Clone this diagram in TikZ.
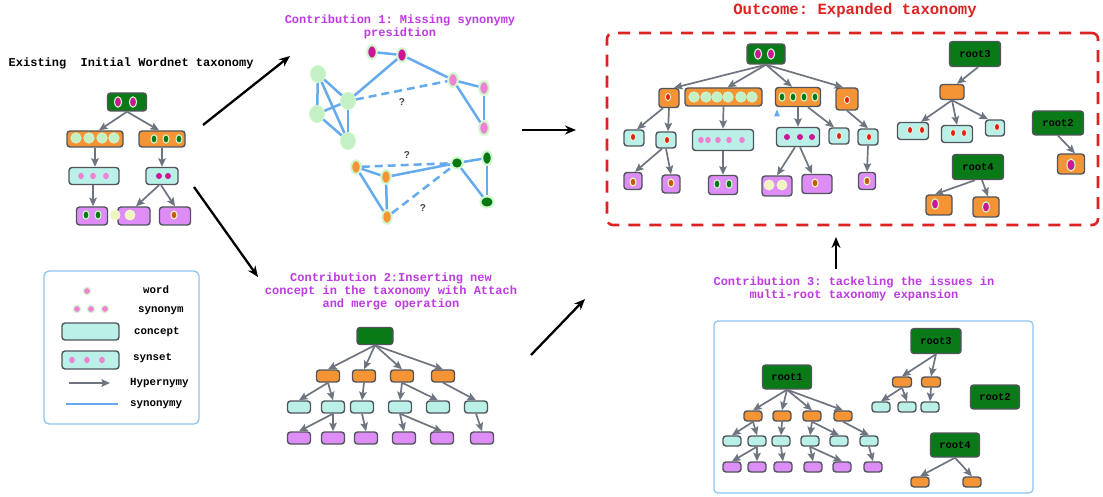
\documentclass[tikz,border=0pt]{standalone}
\usepackage{fontspec}
\setmonofont{Liberation Mono}
\newfontfamily\qfont{Liberation Sans}
\usetikzlibrary{arrows.meta,shapes.geometric}

% palette
\definecolor{tgreen}{RGB}{10,122,24}
\definecolor{torange}{RGB}{245,148,52}
\definecolor{tcyan}{RGB}{186,240,232}
\definecolor{tpurple}{RGB}{222,140,246}
\definecolor{tedge}{RGB}{80,85,92}
\definecolor{tarrow}{RGB}{110,116,128}
\definecolor{dmag}{RGB}{204,22,150}
\definecolor{dpink}{RGB}{240,128,212}
\definecolor{dlgreen}{RGB}{196,240,198}
\definecolor{dlgrim}{RGB}{208,246,204}
\definecolor{ddgreen}{RGB}{8,120,20}
\definecolor{dred}{RGB}{230,30,20}
\definecolor{drim}{RGB}{232,246,214}
\definecolor{dbrown}{RGB}{200,88,16}
\definecolor{dyellow}{RGB}{240,245,190}
\definecolor{dyellowrim}{RGB}{246,250,214}
\definecolor{synblue}{RGB}{102,170,238}
\definecolor{ctitle}{RGB}{190,58,226}
\definecolor{otitle}{RGB}{222,34,34}
\definecolor{legendline}{RGB}{140,196,240}
\definecolor{qgrey}{RGB}{70,70,70}

% one filled dot (word) at x,y
\newcommand\spot[3]{\path[#1] (#2,#3) circle[];}

\begin{document}
\begin{tikzpicture}[x=1pt,y=-1pt,
  box/.style={draw=tedge,line width=1.4pt,rounded corners=3pt,inner sep=0pt,
    font=\ttfamily\bfseries\fontsize{10.5}{12}\selectfont},
  sz/.style 2 args={minimum width=#1pt,minimum height=#2pt},
  gbox/.style={box,fill=tgreen},
  obox/.style={box,fill=torange},
  cbox/.style={box,fill=tcyan},
  pbox/.style={box,fill=tpurple},
  hyp/.style={draw=tarrow,line width=1.7pt,-{Stealth[length=8.5pt,width=7.5pt,inset=1.5pt]}},
  bigarrow/.style={draw=black,line width=2.3pt,-{Stealth[length=11pt,width=9pt]}},
  syn/.style={draw=synblue,line width=2.5pt},
  synq/.style={syn,dash pattern=on 8pt off 5pt},
  gn/.style={ellipse,draw=dlgrim,line width=2pt,inner sep=0pt,minimum width=9.5pt,minimum height=13.5pt},
  lgn/.style={ellipse,draw=dlgrim,fill=dlgreen,line width=1pt,inner sep=0pt,minimum width=15pt,minimum height=17pt},
  qmark/.style={text=qgrey,font=\qfont\bfseries\fontsize{10}{12}\selectfont,inner sep=0pt},
  ctxt/.style={text=ctitle,align=center,inner sep=0pt,
    font=\ttfamily\bfseries\fontsize{12}{13}\selectfont},
  ltxt/.style={anchor=west,inner sep=0pt,text height=7pt,text depth=2pt,
    font=\ttfamily\bfseries\fontsize{10.8}{12}\selectfont},
  dM/.style={fill=dmag,draw=dlgrim,line width=1.1pt,x radius=3.6,y radius=5.2},
  dMs/.style={fill=dmag,radius=3},
  dLG/.style={fill=dlgreen,draw=dlgrim,line width=0.8pt,radius=5.2},
  dDG/.style={fill=ddgreen,draw=dlgrim,line width=1.1pt,x radius=3,y radius=4.2},
  dPK/.style={fill=dpink,x radius=2.8,y radius=3.2},
  dPKr/.style={fill=dpink,draw=dlgrim,line width=1.2pt,radius=3.6},
  dR/.style={fill=dred,draw=drim,line width=0.9pt,x radius=2.6,y radius=3.6},
  dB/.style={fill=dbrown,draw=dyellow,line width=1.1pt,x radius=3,y radius=4},
  dY/.style={fill=dyellow,draw=dyellowrim,line width=0.8pt,radius=5},
]
\path[fill=white] (0,0) rectangle (1103,497);
\useasboundingbox (0,0) rectangle (1103,497);

% ---------------- titles ----------------
\node[anchor=west,inner sep=0pt,font=\ttfamily\bfseries\fontsize{12}{13}\selectfont] (t0) at (8.5,63)
  {Existing\ \ Initial Wordnet taxonomy};
\node[ctxt] (t1) at (400,27) {Contribution 1: Missing synonymy\\presidtion};
\node[ctxt] (t2) at (391,291) {Contribution 2:Inserting new\\concept in the taxonomy with Attach\\and merge operation};
\node[ctxt] (t3) at (854,289) {Contribution 3: tackeling the issues in\\multi-root taxonomy expansion};
\node[text=otitle,inner sep=0pt,font=\ttfamily\bfseries\fontsize{15.6}{17}\selectfont] (t4) at (855,10)
  {Outcome: Expanded taxonomy};

% ---------------- initial taxonomy ----------------
\node[gbox,sz={39}{18}] (w0) at (127,102) {};
\node[obox,sz={56}{16}] (w1) at (95,139) {};
\node[obox,sz={46}{16}] (w2) at (162,139) {};
\node[cbox,sz={50}{17}] (w3) at (94,176) {};
\node[cbox,sz={32}{17}] (w4) at (162,176) {};
\node[pbox,sz={31}{18}] (w5) at (92,216) {};
\node[pbox,sz={32}{18}] (w6) at (134,216) {};
\node[pbox,sz={31}{18}] (w7) at (175,216) {};
\draw[hyp] (w0.south) -- ([xshift=4pt]w1.north);
\draw[hyp] (w0.south) -- ([xshift=-3pt]w2.north);
\draw[hyp] (w1.south) -- (w1.south |- w3.north);
\draw[hyp] (w2.south) -- (w2.south |- w4.north);
\draw[hyp] ([xshift=-1pt]w3.south) -- ([xshift=-1pt]w3.south |- w5.north);
\draw[hyp] ([xshift=-3pt]w4.south) -- ([xshift=2pt]w6.north);
\draw[hyp] ([xshift=-1pt]w4.south) -- (w7.north);
\spot{dM}{118}{102} \spot{dM}{133}{102}
\foreach \x in {76,89,102,114} {\spot{dLG}{\x}{138}}
\foreach \x in {154,166,179} {\spot{dDG}{\x}{139}}
\foreach \x in {81,93,106} {\spot{dPK}{\x}{176}}
\spot{dMs}{159}{176} \spot{dMs}{168}{176}
\spot{dDG}{86}{215} \spot{dDG}{98}{215}
\spot{dY}{115}{215} \spot{dY}{130}{215}
\spot{dB}{174}{215}

% ---------------- linking arrows ----------------
\coordinate (k1s) at (203,125); \coordinate (k1e) at (290,56);
\coordinate (k2s) at (194,187); \coordinate (k2e) at (258,277);
\coordinate (k3s) at (522,130); \coordinate (k3e) at (576,130);
\coordinate (k4s) at (531,355); \coordinate (k4e) at (585,299);
\coordinate (k5s) at (836,269); \coordinate (k5e) at (836,237);
\draw[bigarrow] (k1s) -- (k1e);
\draw[bigarrow] (k2s) -- (k2e);
\draw[bigarrow] (k3s) -- (k3e);
\draw[bigarrow] (k4s) -- (k4e);
\draw[bigarrow] (k5s) -- (k5e);

% ---------------- synonymy graph ----------------
\node[gn,fill=dmag] (m1) at (372,52) {};
\node[gn,fill=dmag] (m2) at (402,55) {};
\node[lgn] (l1) at (318,74) {};
\node[lgn] (l2) at (317,114) {};
\node[lgn] (l3) at (348,101) {};
\node[lgn] (l4) at (348,141) {};
\node[gn,fill=dpink] (p1) at (453,80) {};
\node[gn,fill=dpink] (p2) at (484,88) {};
\node[gn,fill=dpink] (p3) at (484,128) {};
\node[gn,fill=torange] (r1) at (356,167) {};
\node[gn,fill=torange] (r2) at (386,177) {};
\node[gn,fill=torange] (r3) at (387,217) {};
\node[gn,fill=ddgreen,minimum width=12pt,minimum height=11pt] (g1) at (457,163) {};
\node[gn,fill=ddgreen] (g2) at (487,158) {};
\node[gn,fill=ddgreen,minimum width=13pt,minimum height=11pt] (g3) at (487,202) {};
\draw[syn] (m1) -- (m2);
\draw[syn] (m2) -- (l3);
\draw[syn] (m2) -- (p1);
\draw[syn] (p1) -- (p2);
\draw[syn] (p1) -- (p3);
\draw[syn] (p2) -- (p3);
\draw[syn] (l1) -- (l2);
\draw[syn] (l1) -- (l3);
\draw[syn] (l1) -- (l4);
\draw[syn] (l2) -- (l3);
\draw[syn] (l2) -- (l4);
\draw[syn] (l3) -- (l4);
\draw[synq] (l3) -- (p1);
\draw[syn] (r1) -- (r2);
\draw[syn] (r1) -- (r3);
\draw[syn] (r2) -- (r3);
\draw[syn] (r2) -- (g1);
\draw[synq] (r1) -- (g1);
\draw[synq] (r3) -- (g1);
\draw[syn] (g1) -- (g2);
\draw[syn] (g1) -- (g3);
\draw[syn] (g2) -- (g3);
\node[qmark] (q1) at (402,102) {?};
\node[qmark] (q2) at (407,155) {?};
\node[qmark] (q3) at (423,208) {?};

% ---------------- legend ----------------
\node[draw=legendline,line width=1.3pt,rounded corners=5pt,minimum width=155pt,minimum height=153pt,inner sep=0pt]
  (legend) at (121.5,347.5) {};
\spot{dPKr}{87}{291}
\spot{dPKr}{77}{309} \spot{dPKr}{91}{309} \spot{dPKr}{105}{309}
\node[cbox,sz={57}{17}] (lc) at (90.5,331.5) {};
\node[cbox,sz={57}{18}] (ls) at (90.5,360) {};
\spot{dPK}{72}{360} \spot{dPK}{87}{360} \spot{dPK}{102}{360}
\coordinate (lh1) at (69,383); \coordinate (lh2) at (110,383);
\draw[hyp] (lh1) -- (lh2);
\coordinate (ly1) at (66,404); \coordinate (ly2) at (118,404);
\draw[synblue,line width=1.6pt] (ly1) -- (ly2);
\node[ltxt] (lw) at (143,291) {word};
\node[ltxt] (lsy) at (138,310) {synonym};
\node[ltxt] (lco) at (134,332) {concept};
\node[ltxt] (lss) at (133,358) {synset};
\node[ltxt] (lhy) at (130,383) {Hypernymy};
\node[ltxt] (lsn) at (130,404) {synonymy};

% ---------------- attach and merge ----------------
\node[gbox,sz={36}{17}] (a0) at (375,336) {};
\foreach \x [count=\i] in {328,364,402,443} {\node[obox,sz={23}{12}] (a\i) at (\x,376) {};}
\foreach \x [count=\i from 5] in {299,333,362,400,438,476} {\node[cbox,sz={23}{12}] (a\i) at (\x,407) {};}
\foreach \x [count=\i from 11] in {299,333,366,404,442,482} {\node[pbox,sz={23}{12}] (a\i) at (\x,438) {};}
\foreach \c in {1,2,3,4} {\draw[hyp] (a0.south) -- (a\c.north);}
\foreach \p/\c in {1/5,1/6,2/7,3/8,3/9,4/10,6/11,6/12,7/13,8/14,8/15,10/16}
  {\draw[hyp] (a\p.south) -- (a\c.north);}

% ---------------- multi-root forest ----------------
\node[draw=legendline,line width=1.2pt,rounded corners=4pt,minimum width=319pt,minimum height=172pt,inner sep=0pt]
  (forest) at (873.5,407) {};
\node[gbox,sz={49}{24}] (b0) at (787,377) {root1};
\foreach \x [count=\i] in {753,782,812,843} {\node[obox,sz={18}{10}] (b\i) at (\x,416) {};}
\foreach \x [count=\i from 5] in {732,757,781,810,839,869} {\node[cbox,sz={18}{10}] (b\i) at (\x,441) {};}
\foreach \x [count=\i from 11] in {732,757,783,813,842,873} {\node[pbox,sz={18}{10}] (b\i) at (\x,467) {};}
\foreach \c in {1,2,3,4} {\draw[hyp] (b0.south) -- (b\c.north);}
\foreach \p/\c in {1/5,1/6,2/7,3/8,3/9,4/10,6/11,6/12,7/13,8/14,8/15,10/16}
  {\draw[hyp] (b\p.south) -- (b\c.north);}
\node[gbox,sz={50}{25}] (b17) at (936,341) {root3};
\node[obox,sz={19}{10}] (b18) at (902,382) {};
\node[obox,sz={19}{10}] (b19) at (931,382) {};
\node[cbox,sz={18}{10}] (b20) at (881,407) {};
\node[cbox,sz={18}{10}] (b21) at (907,407) {};
\node[cbox,sz={18}{10}] (b22) at (930,407) {};
\draw[hyp] (b17.south) -- (b18.north);
\draw[hyp] (b17.south) -- (b19.north);
\draw[hyp] (b18.south) -- (b20.north);
\draw[hyp] (b18.south) -- (b21.north);
\draw[hyp] (b19.south) -- (b22.north);
\node[gbox,sz={49}{24}] (b23) at (995,397) {root2};
\node[gbox,sz={49}{24}] (b24) at (955,445) {root4};
\node[obox,sz={18}{10}] (b25) at (920,482) {};
\node[obox,sz={18}{10}] (b26) at (972,482) {};
\draw[hyp] (b24.south) -- (b25.north);
\draw[hyp] (b24.south) -- (b26.north);

% ---------------- expanded taxonomy ----------------
\node[draw=otitle,line width=2.6pt,dash pattern=on 12pt off 9pt,rounded corners=6pt,
  minimum width=491pt,minimum height=192pt,inner sep=0pt] (outcome) at (852.5,129) {};
\node[gbox,sz={38}{20}] (x0) at (766,54) {};
\node[obox,sz={20}{19}] (x1) at (669,98) {};
\node[obox,sz={77}{18}] (x2) at (723.5,97) {};
\node[obox,sz={45}{19}] (x3) at (798,97) {};
\node[obox,sz={22}{22}] (x4) at (847,99) {};
\node[cbox,sz={20}{16}] (x5) at (634,138) {};
\node[cbox,sz={20}{16}] (x6) at (666,140) {};
\node[cbox,sz={61}{21}] (x7) at (723,140) {};
\node[cbox,sz={43}{19}] (x8) at (798,137) {};
\node[cbox,sz={20}{16}] (x9) at (839,136) {};
\node[cbox,sz={20}{16}] (x10) at (868,137) {};
\node[pbox,sz={18}{17}] (x11) at (633,181) {};
\node[pbox,sz={18}{18}] (x12) at (671,184) {};
\node[pbox,sz={29}{19}] (x13) at (723,185) {};
\node[pbox,sz={30}{20}] (x14) at (777,186) {};
\node[pbox,sz={30}{19}] (x15) at (817,184) {};
\node[pbox,sz={17}{17}] (x16) at (867,181) {};
\draw[hyp] (x0.south) -- ([xshift=5pt]x1.north);
\draw[hyp] (x0.south) -- ([xshift=4pt]x2.north);
\draw[hyp] (x0.south) -- ([xshift=-6pt]x3.north);
\draw[hyp] (x0.south) -- ([xshift=-4pt]x4.north);
\draw[hyp] ([xshift=-6pt]x1.south) -- ([xshift=3pt]x5.north);
\draw[hyp] (x1.south) -- ([xshift=2pt]x6.north);
\draw[hyp] (x2.south) -- (x7.north);
\draw[hyp] (x3.south) -- (x8.north);
\draw[hyp] ([xshift=10pt]x3.south) -- ([xshift=-5pt]x9.north);
\draw[hyp] (x4.south) -- (x10.north);
\draw[hyp] ([xshift=-4pt]x6.south) -- ([xshift=2pt]x11.north);
\draw[hyp] (x6.south) -- (x12.north);
\draw[hyp] (x7.south) -- (x13.north);
\draw[hyp] ([xshift=-3pt]x8.south) -- (x14.north);
\draw[hyp] ([xshift=2pt]x8.south) -- ([xshift=-5pt]x15.north);
\draw[hyp] (x10.south) -- (x16.north);
\fill[synblue] (774,116.5) -- (780,116.5) -- (777,109.5) -- cycle;
\spot{dM}{758}{54} \spot{dM}{771}{54}
\spot{dR}{668}{97}
\foreach \x in {694,706,717,728,741,752} {\spot{dLG}{\x}{97}}
\foreach \x in {782,793,804,815} {\spot{dDG}{\x}{97}}
\spot{dR}{847}{100}
\spot{dR}{633}{137} \spot{dR}{667}{140}
\foreach \x in {701,708,718,729,742} {\spot{dPK}{\x}{140}}
\foreach \x in {787,800,812} {\spot{dMs}{\x}{137}}
\spot{dR}{839}{136} \spot{dR}{869}{137}
\spot{dB}{633}{182} \spot{dB}{671}{183}
\spot{dDG}{717}{184} \spot{dDG}{729}{184}
\spot{dY}{769}{185} \spot{dY}{782}{185}
\spot{dB}{815}{183} \spot{dB}{867}{181}

\node[gbox,sz={51}{25}] (y1) at (975,54) {root3};
\node[obox,sz={24}{15}] (y2) at (952,92) {};
\node[cbox,sz={31}{17}] (y3) at (913,131) {};
\node[cbox,sz={31}{17}] (y4) at (957,134) {};
\node[cbox,sz={19}{16}] (y5) at (995,128) {};
\node[gbox,sz={51}{24}] (y6) at (1058,123) {root2};
\node[obox,sz={27}{20}] (y7) at (1071,164) {};
\node[gbox,sz={51}{25}] (y8) at (978,167) {root4};
\node[obox,sz={26}{20}] (y9) at (939,205) {};
\node[obox,sz={26}{20}] (y10) at (986,207) {};
\draw[hyp] ([xshift=3pt]y1.south) -- ([xshift=5pt]y2.north);
\draw[hyp] (y2.south) -- ([xshift=8pt]y3.north);
\draw[hyp] (y2.south) -- (y4.north);
\draw[hyp] (y2.south) -- ([xshift=-7pt]y5.north);
\draw[hyp] (y6.south) -- ([xshift=4pt]y7.north);
\draw[hyp] ([xshift=-3pt]y8.south) -- ([xshift=-4pt]y9.north);
\draw[hyp] ([xshift=4pt]y8.south) -- ([xshift=2pt]y10.north);
\spot{dR}{910}{130} \spot{dR}{922}{130}
\spot{dR}{953}{133} \spot{dR}{964}{133}
\spot{dR}{997}{127}
\path[fill=dmag,draw=dlgrim,line width=1.1pt] (1071,165) circle[x radius=4,y radius=6];
\spot{dM}{935}{204} \spot{dM}{986}{207}
\end{tikzpicture}
\end{document}
